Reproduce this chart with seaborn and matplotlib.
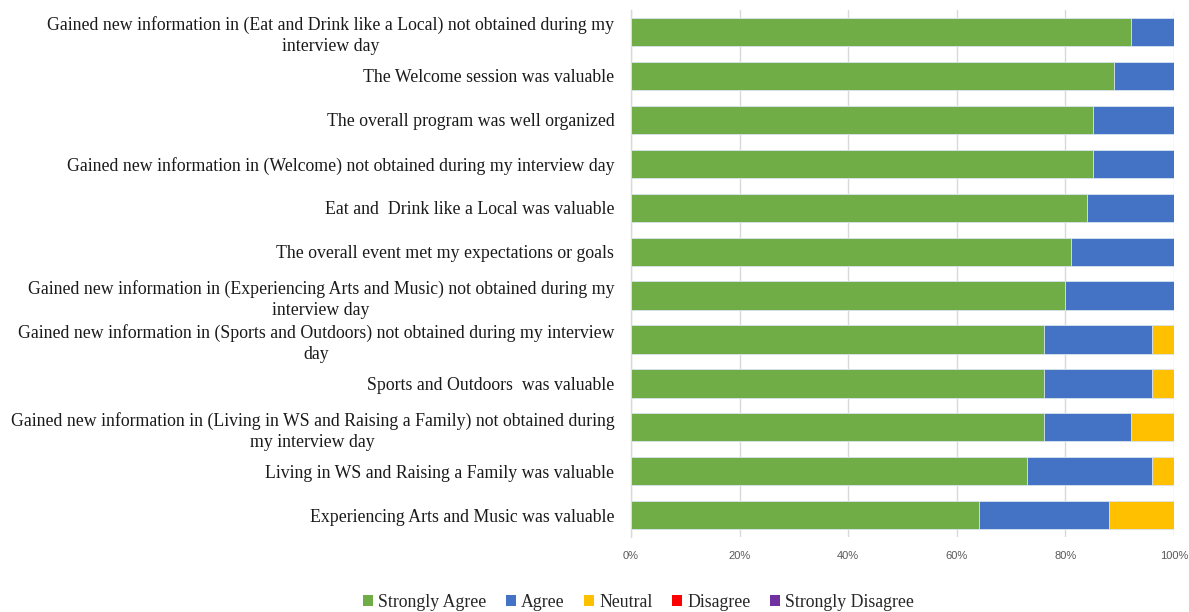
import matplotlib
matplotlib.use("Agg")
import matplotlib.pyplot as plt
from matplotlib.patches import Patch
from matplotlib.ticker import PercentFormatter
import seaborn as sns
import pandas as pd
import numpy as np

statements = [
    "Gained new information in (Eat and Drink like a Local) not obtained during my\ninterview day",
    "The Welcome session was valuable",
    "The overall program was well organized",
    "Gained new information in (Welcome) not obtained during my interview day",
    "Eat and  Drink like a Local was valuable",
    "The overall event met my expectations or goals",
    "Gained new information in (Experiencing Arts and Music) not obtained during my\ninterview day",
    "Gained new information in (Sports and Outdoors) not obtained during my interview\nday",
    "Sports and Outdoors  was valuable",
    "Gained new information in (Living in WS and Raising a Family) not obtained during\nmy interview day",
    "Living in WS and Raising a Family was valuable",
    "Experiencing Arts and Music was valuable",
]

strongly_agree = [92, 89, 85, 85, 84, 81, 80, 76, 76, 76, 73, 64]
agree = [8, 11, 15, 15, 16, 19, 20, 20, 20, 16, 23, 24]
neutral = [0, 0, 0, 0, 0, 0, 0, 4, 4, 8, 4, 12]
disagree = [0, 0, 0, 0, 0, 0, 0, 0, 0, 0, 0, 0]
strongly_disagree = [0, 0, 0, 0, 0, 0, 0, 0, 0, 0, 0, 0]

levels = ["Strongly Agree", "Agree", "Neutral", "Disagree", "Strongly Disagree"]
colors = ["#70AD47", "#4472C4", "#FFC000", "#FF0000", "#7030A0"]

df = pd.DataFrame({
    "statement": statements,
    "Strongly Agree": strongly_agree,
    "Agree": agree,
    "Neutral": neutral,
    "Disagree": disagree,
    "Strongly Disagree": strongly_disagree,
})
cum = df[levels].cumsum(axis=1) / 100.0

sns.set_theme(style="white")
plt.rcParams["font.family"] = ["Liberation Serif", "DejaVu Serif"]

fig = plt.figure(figsize=(11.89, 6.12), dpi=100)
ax = fig.add_axes([0.5307, 0.122, 0.4567, 0.862])

# stacked bars: draw cumulative totals from the outermost segment inwards
for lvl, col in reversed(list(zip(levels, colors))):
    sns.barplot(x=cum[lvl], y=df["statement"], orient="h", color=col,
                saturation=1, width=0.64, edgecolor="#DCE6F2", linewidth=0.6,
                ax=ax, zorder=3)

ax.set_xlim(0, 1)
ax.set_ylim(11.5, -0.5)
ax.set_xticks(np.arange(0, 1.01, 0.2))
ax.xaxis.set_major_formatter(PercentFormatter(1.0, decimals=0))
ax.set_xlabel("")
ax.set_ylabel("")
ax.grid(axis="x", color="#D9D9D9", linewidth=1, zorder=0)
ax.set_axisbelow(True)
for s in ["top", "right", "bottom"]:
    ax.spines[s].set_visible(False)
ax.spines["left"].set_color("#D9D9D9")
ax.spines["left"].set_linewidth(1)
ax.tick_params(axis="y", length=0, pad=12, labelsize=12.8, labelcolor="#1a1a1a")
ax.tick_params(axis="x", length=0, pad=10, labelsize=8, labelcolor="#595959")
for lbl in ax.get_xticklabels():
    lbl.set_family(["Liberation Sans", "DejaVu Sans"])
for lbl in ax.get_yticklabels():
    lbl.set_multialignment("center")
    lbl.set_linespacing(1.3)

handles = [Patch(facecolor=c, edgecolor="none", label=l) for l, c in zip(levels, colors)]
fig.legend(handles=handles, loc="center", bbox_to_anchor=(0.537, 0.016),
           ncol=5, frameon=False, fontsize=12.8, handlelength=0.55,
           handleheight=0.55, handletextpad=0.3, columnspacing=1.1)

fig.savefig("out.png", dpi=100, facecolor="white")
